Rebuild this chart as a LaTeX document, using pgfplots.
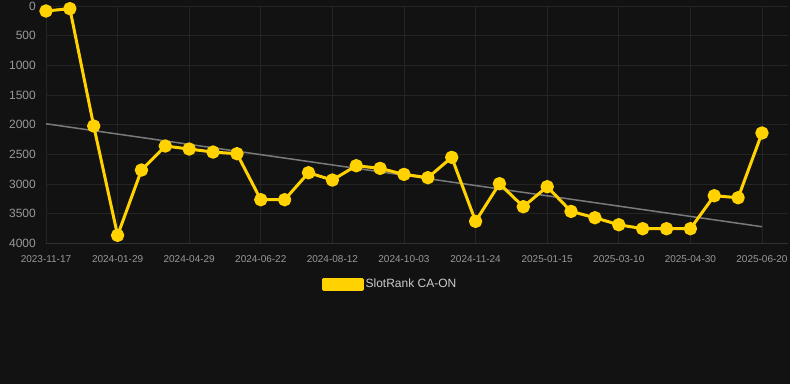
\documentclass[border=0pt]{standalone}
\usepackage{pgfplots}
\pgfplotsset{compat=1.18}
\usetikzlibrary{backgrounds,calc}
\usepackage{fontspec}
\setmainfont{Liberation Sans}
\definecolor{bg}{HTML}{121212}
\definecolor{gridc}{HTML}{242424}
\definecolor{axisc}{HTML}{303030}
\definecolor{gold}{HTML}{FFD200}
\definecolor{trend}{HTML}{7A7A7A}
\definecolor{lbl}{HTML}{999999}
\definecolor{legtext}{HTML}{CCCCCC}
\begin{document}
\begin{tikzpicture}
\begin{axis}[
  scale only axis, width=742pt, height=237.3pt,
  xmin=0, xmax=31.09, ymin=0, ymax=4000, y dir=reverse,
  clip=false,
  xtick={0,3,...,30},
  xticklabels={2023-11-17,2024-01-29,2024-04-29,2024-06-22,2024-08-12,2024-10-03,2024-11-24,2025-01-15,2025-03-10,2025-04-30,2025-06-20},
  ytick={0,500,...,4000},
  grid=major, major grid style={gridc, line width=0.8pt},
  axis line style={draw=none}, major tick length=0pt,
  /pgf/number format/assume math mode=true,
  /pgf/number format/1000 sep={},
  yticklabel style={font=\fontsize{12}{14}\selectfont, text=lbl, inner sep=0pt, xshift=-10pt},
  xticklabel style={font=\fontsize{10}{12}\selectfont, text=lbl, inner sep=0pt, yshift=-12pt},
  legend style={at={(0.4636,-0.1715)}, anchor=center, draw=none, fill=none, text=legtext, font=\fontsize{12}{14}\selectfont},
  legend image code/.code={\fill[gold] (0pt,-5pt) rectangle (39pt,5pt);},
]
\coordinate (TL) at (axis cs:0,0);
\draw[color=axisc, line width=0.8pt] (axis cs:0,4000) -- (axis cs:31.09,4000);
\addplot[trend, line width=1.5pt, forget plot] coordinates {(0,1985) (30,3720)};
\addplot[gold, line width=3pt, line join=round, mark=*, mark size=5.2pt, mark options={fill=gold, draw=none}] coordinates {
(0,84) (1,45) (2,2023) (3,3866) (4,2765) (5,2360) (6,2411) (7,2462) (8,2490) (9,3265)
(10,3265) (11,2810) (12,2934) (13,2692) (14,2737) (15,2838) (16,2894) (17,2551) (18,3630) (19,2995)
(20,3383) (21,3046) (22,3462) (23,3569) (24,3687) (25,3754) (26,3754) (27,3754) (28,3198) (29,3232)
(30,2141)};
\addlegendentry{SlotRank CA-ON}
\end{axis}
\begin{scope}[on background layer]
\fill[bg] ($(TL)+(-46pt,6pt)$) rectangle ($(TL)+(744pt,-378pt)$);
\end{scope}
\end{tikzpicture}
\end{document}
